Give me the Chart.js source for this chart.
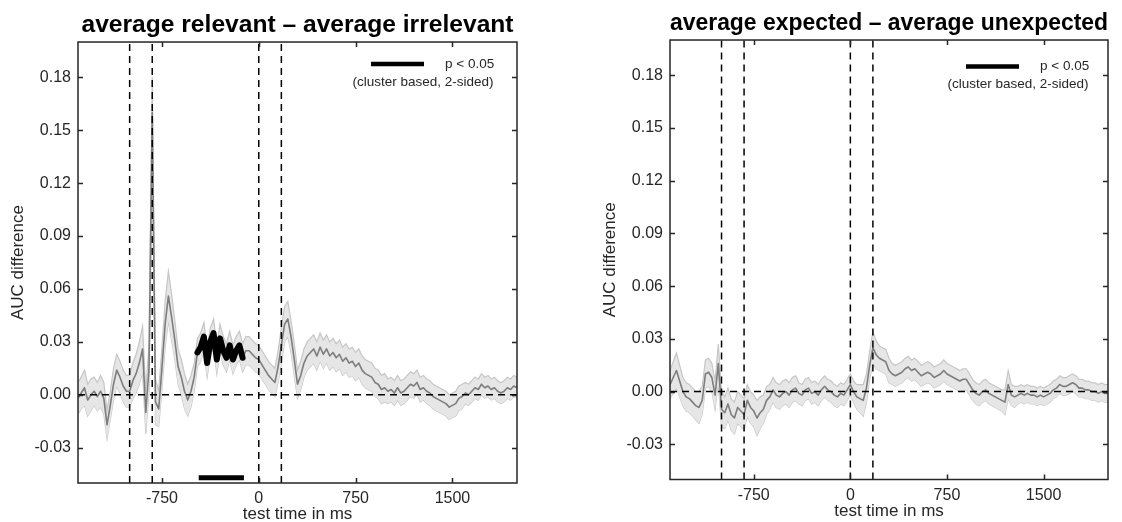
<!DOCTYPE html>
<html>
<head>
<meta charset="utf-8">
<script src="https://cdn.jsdelivr.net/npm/chart.js@4.4.1/dist/chart.umd.min.js"></script>
<style>
  html, body { margin: 0; padding: 0; background: #fff; overflow: hidden; }
  .panel { position: absolute; top: 0; }
</style>
</head>
<body>
<div class="panel" style="left:0px"><canvas id="relevant" width="561" height="530"></canvas></div>
<div class="panel" style="left:592px"><canvas id="expected" width="530" height="530"></canvas></div>
<script>
// time axis: one sample every 25 ms from -1400 to 2000
const tStart = -1400;
const tStep = 25;
const xMin = -1400, xMax = 2000;
const yMin = -0.05, yMax = 0.2;
const xTickValues = [-750, 0, 750, 1500];
const yTickValues = [-0.03, 0, 0.03, 0.06, 0.09, 0.12, 0.15, 0.18];
const eventTimes = [-1000, -825, 0, 175];

// average relevant - average irrelevant
const relevantMean = [
  -0.002, 0.001, 0.004, -0.003, 0.000, 0.002, -0.001, 0.002,
  -0.002, -0.017, -0.006, 0.006, 0.014, 0.010, 0.005, 0.002,
  0.002, 0.008, 0.012, 0.018, 0.026, -0.010, 0.015, 0.160,
  -0.004, -0.008, 0.015, 0.040, 0.056, 0.044, 0.031, 0.016,
  0.010, 0.002, -0.003, 0.002, 0.010, 0.024, 0.027, 0.033,
  0.018, 0.030, 0.035, 0.020, 0.032, 0.025, 0.021, 0.028,
  0.020, 0.025, 0.028, 0.021, 0.025, 0.025, 0.023, 0.021,
  0.020, 0.017, 0.014, 0.011, 0.009, 0.007, 0.016, 0.028,
  0.040, 0.043, 0.033, 0.020, 0.006, 0.011, 0.018, 0.022,
  0.024, 0.026, 0.022, 0.027, 0.023, 0.026, 0.022, 0.024,
  0.021, 0.023, 0.019, 0.021, 0.018, 0.019, 0.016, 0.018,
  0.014, 0.012, 0.011, 0.010, 0.007, 0.006, 0.003, 0.004,
  0.002, 0.003, 0.001, 0.004, 0.001, 0.002, 0.004, 0.006,
  0.005, 0.007, 0.003, 0.004, 0.002, 0.001, -0.001, -0.002,
  -0.003, -0.004, -0.005, -0.007, -0.006, -0.005, -0.002, -0.001,
  0.001, 0.000, 0.002, 0.004, 0.003, 0.006, 0.004, 0.005,
  0.003, 0.004, 0.002, 0.001, 0.002, 0.004, 0.003, 0.005,
  0.004
];
const relevantCI = [
  0.009, 0.009, 0.010, 0.009, 0.009, 0.008, 0.008, 0.009,
  0.009, 0.008, 0.008, 0.009, 0.009, 0.009, 0.009, 0.009,
  0.009, 0.010, 0.011, 0.012, 0.013, 0.012, 0.014, 0.020,
  0.013, 0.010, 0.012, 0.013, 0.014, 0.013, 0.011, 0.010,
  0.010, 0.010, 0.009, 0.009, 0.008, 0.008, 0.008, 0.008,
  0.008, 0.008, 0.008, 0.008, 0.008, 0.008, 0.008, 0.008,
  0.008, 0.008, 0.008, 0.008, 0.008, 0.008, 0.008, 0.008,
  0.008, 0.008, 0.008, 0.008, 0.008, 0.008, 0.009, 0.010,
  0.010, 0.010, 0.009, 0.009, 0.008, 0.008, 0.008, 0.008,
  0.008, 0.008, 0.008, 0.008, 0.008, 0.008, 0.008, 0.008,
  0.008, 0.008, 0.008, 0.008, 0.008, 0.008, 0.008, 0.008,
  0.008, 0.008, 0.008, 0.008, 0.008, 0.008, 0.008, 0.008,
  0.007, 0.007, 0.007, 0.007, 0.007, 0.007, 0.007, 0.007,
  0.007, 0.007, 0.007, 0.007, 0.007, 0.007, 0.007, 0.007,
  0.007, 0.007, 0.007, 0.007, 0.007, 0.007, 0.007, 0.007,
  0.006, 0.006, 0.006, 0.006, 0.006, 0.006, 0.006, 0.006,
  0.006, 0.006, 0.006, 0.006, 0.006, 0.006, 0.006, 0.006,
  0.006
];
// significant cluster (p < 0.05) for the relevant contrast
const sigWindow = [-475, -125];
const sigBarLevel = -0.047;

// average expected - average unexpected
const expectedMean = [
  0.004, 0.008, 0.012, 0.006, 0.000, -0.003, -0.004, -0.006,
  -0.008, -0.009, -0.005, 0.010, 0.011, 0.008, -0.002, 0.016,
  -0.010, -0.012, -0.007, -0.013, -0.015, -0.009, -0.011, -0.013,
  -0.005, -0.009, -0.011, -0.015, -0.012, -0.010, -0.005, -0.003,
  0.001, -0.002, -0.003, -0.001, 0.000, -0.002, 0.001, 0.002,
  -0.001, -0.002, 0.001, 0.002, -0.001, 0.000, -0.002, 0.001,
  0.003, 0.001, 0.000, -0.002, -0.003, -0.001, -0.002, 0.001,
  0.004, 0.000, -0.003, -0.004, -0.005, 0.002, 0.015, 0.025,
  0.021, 0.019, 0.018, 0.017, 0.012, 0.010, 0.009, 0.010,
  0.011, 0.013, 0.014, 0.012, 0.013, 0.011, 0.009, 0.010,
  0.011, 0.010, 0.008, 0.009, 0.010, 0.012, 0.010, 0.009,
  0.008, 0.007, 0.006, 0.007, 0.007, 0.004, 0.001, -0.001,
  -0.002, 0.000, 0.001, -0.001, -0.002, -0.003, -0.004, -0.005,
  -0.006, 0.004, -0.002, -0.003, -0.002, -0.001, -0.002, -0.001,
  -0.002, -0.002, -0.003, -0.002, -0.003, -0.002, -0.001, 0.001,
  0.002, 0.004, 0.003, 0.003, 0.004, 0.005, 0.004, 0.002,
  0.002, 0.001, 0.001, 0.000, 0.000, -0.001, 0.000, -0.001,
  -0.001
];
const expectedCI = [
  0.008, 0.009, 0.010, 0.009, 0.008, 0.008, 0.008, 0.008,
  0.008, 0.009, 0.008, 0.008, 0.008, 0.008, 0.008, 0.011,
  0.010, 0.009, 0.009, 0.009, 0.009, 0.009, 0.009, 0.009,
  0.009, 0.009, 0.009, 0.010, 0.009, 0.008, 0.008, 0.007,
  0.007, 0.007, 0.007, 0.007, 0.007, 0.007, 0.007, 0.007,
  0.006, 0.006, 0.006, 0.006, 0.006, 0.006, 0.006, 0.006,
  0.006, 0.006, 0.006, 0.006, 0.006, 0.006, 0.006, 0.006,
  0.006, 0.006, 0.007, 0.008, 0.009, 0.008, 0.008, 0.009,
  0.008, 0.007, 0.007, 0.007, 0.007, 0.006, 0.006, 0.006,
  0.006, 0.006, 0.006, 0.006, 0.006, 0.006, 0.006, 0.006,
  0.006, 0.006, 0.006, 0.006, 0.006, 0.006, 0.006, 0.006,
  0.006, 0.006, 0.006, 0.006, 0.006, 0.006, 0.006, 0.006,
  0.006, 0.006, 0.006, 0.006, 0.006, 0.006, 0.006, 0.006,
  0.007, 0.008, 0.006, 0.006, 0.005, 0.005, 0.005, 0.005,
  0.005, 0.005, 0.005, 0.005, 0.005, 0.005, 0.005, 0.005,
  0.005, 0.005, 0.005, 0.005, 0.005, 0.005, 0.005, 0.005,
  0.005, 0.005, 0.005, 0.005, 0.005, 0.005, 0.005, 0.005,
  0.005
];

Chart.defaults.font.family = '"Liberation Sans", Arial, Helvetica, sans-serif';
Chart.defaults.color = '#262626';

const meanColor = '#7d7d7d';
const bandEdge = '#c6c6c6';
const bandFill = '#e6e6e6';

function points(values) {
  return values.map((v, i) => ({ x: tStart + i * tStep, y: v }));
}

function bandPoints(values, ci, sign) {
  return values.map((v, i) => ({ x: tStart + i * tStep, y: v + sign * ci[i] }));
}

function dashedLine(data) {
  return { data: data, borderColor: '#000', borderWidth: 1.5, borderDash: [7, 5], pointRadius: 0, order: 1 };
}

function buildDatasets(mean, ci) {
  const sets = [
    { data: bandPoints(mean, ci, 1), borderColor: bandEdge, borderWidth: 1.2, backgroundColor: bandFill, fill: '+1', pointRadius: 0, order: 5 },
    { data: bandPoints(mean, ci, -1), borderColor: bandEdge, borderWidth: 1.2, pointRadius: 0, order: 5 },
    { data: points(mean), borderColor: meanColor, borderWidth: 1.6, borderJoinStyle: 'round', pointRadius: 0, order: 3 },
    dashedLine([{ x: xMin, y: 0 }, { x: xMax, y: 0 }])
  ];
  eventTimes.forEach(t => sets.push(dashedLine([{ x: t, y: yMin }, { x: t, y: yMax }])));
  return sets;
}

// MATLAB-like box with inward ticks, plus the p < 0.05 key
const matlabAxes = {
  id: 'matlabAxes',
  afterDraw(chart, args, opts) {
    const { ctx, chartArea: a } = chart;
    const x = chart.scales.x, y = chart.scales.y;
    ctx.save();
    ctx.strokeStyle = '#262626';
    ctx.lineWidth = 1.5;
    ctx.strokeRect(a.left, a.top, a.right - a.left, a.bottom - a.top);
    ctx.beginPath();
    xTickValues.forEach(v => {
      const px = Math.round(x.getPixelForValue(v)) + 0.5;
      ctx.moveTo(px, a.bottom); ctx.lineTo(px, a.bottom - 5);
      ctx.moveTo(px, a.top); ctx.lineTo(px, a.top + 5);
    });
    yTickValues.forEach(v => {
      const py = Math.round(y.getPixelForValue(v)) + 0.5;
      ctx.moveTo(a.left, py); ctx.lineTo(a.left + 5, py);
      ctx.moveTo(a.right, py); ctx.lineTo(a.right - 5, py);
    });
    ctx.stroke();

    // key
    ctx.strokeStyle = '#000';
    ctx.lineWidth = 4.5;
    ctx.beginPath();
    ctx.moveTo(opts.keyX, opts.keyY);
    ctx.lineTo(opts.keyX + 53, opts.keyY);
    ctx.stroke();
    ctx.fillStyle = '#262626';
    ctx.font = '13.5px "Liberation Sans", Arial, sans-serif';
    ctx.textBaseline = 'middle';
    ctx.textAlign = 'left';
    ctx.fillText('p < 0.05', opts.keyX + 74, opts.keyY);
    ctx.textAlign = 'center';
    ctx.fillText('(cluster based, 2-sided)', opts.keyX + 52, opts.keyY + 18);
    ctx.restore();
  }
};

function buildOptions(cfg) {
  return {
    responsive: false,
    animation: false,
    devicePixelRatio: 1,
    layout: { padding: { left: 0, right: cfg.padRight, top: 0, bottom: 0 } },
    plugins: {
      legend: { display: false },
      tooltip: { enabled: false },
      title: {
        display: true,
        text: cfg.title,
        color: '#000',
        fullSize: false,
        font: { size: 24.6, weight: 'bold', lineHeight: 1.2 },
        padding: { top: cfg.titleTop, bottom: cfg.titleBottom }
      },
      matlabAxes: { keyX: cfg.keyX, keyY: cfg.keyY }
    },
    elements: { line: { tension: 0 } },
    scales: {
      x: {
        type: 'linear',
        min: xMin,
        max: xMax,
        afterBuildTicks: s => { s.ticks = xTickValues.map(v => ({ value: v })); },
        afterFit: s => { s.height = cfg.xAxisHeight; },
        grid: { display: false, drawTicks: false },
        border: { display: false },
        ticks: { padding: 6, font: { size: 16 }, maxRotation: 0, autoSkip: false, callback: v => String(v) },
        title: { display: true, text: 'test time in ms', font: { size: 17 }, padding: { top: 0, bottom: cfg.xTitleBottom } }
      },
      y: {
        type: 'linear',
        min: yMin,
        max: yMax,
        afterBuildTicks: s => { s.ticks = yTickValues.map(v => ({ value: v })); },
        afterFit: s => { s.width = 78; },
        grid: { display: false, drawTicks: false },
        border: { display: false },
        ticks: { padding: 7, font: { size: 16 }, autoSkip: false, callback: v => v.toFixed(2) },
        title: { display: true, text: 'AUC difference', font: { size: 17 }, padding: { top: 8, bottom: 0 } }
      }
    }
  };
}

const relevantSets = buildDatasets(relevantMean, relevantCI);
relevantSets.push({
  data: points(relevantMean).filter(p => p.x >= sigWindow[0] && p.x <= sigWindow[1]),
  borderColor: '#000', borderWidth: 6, borderJoinStyle: 'round', borderCapStyle: 'round', pointRadius: 0, order: 2
});
relevantSets.push({
  data: [{ x: sigWindow[0] + 10, y: sigBarLevel }, { x: sigWindow[1] + 10, y: sigBarLevel }],
  borderColor: '#000', borderWidth: 5, pointRadius: 0, order: 1
});

const relevantChart = new Chart(document.getElementById('relevant'), {
  type: 'line',
  data: { datasets: relevantSets },
  options: buildOptions({
    title: 'average relevant \u2013 average irrelevant',
    padRight: 44, titleTop: 10.5, titleBottom: 2,
    xAxisHeight: 47, xTitleBottom: 5.4,
    keyX: 371, keyY: 64
  }),
  plugins: [matlabAxes]
});

const expectedChart = new Chart(document.getElementById('expected'), {
  type: 'line',
  data: { datasets: buildDatasets(expectedMean, expectedCI) },
  options: buildOptions({
    title: 'average expected \u2013 average unexpected',
    padRight: 14, titleTop: 8, titleBottom: 2.5,
    xAxisHeight: 50.5, xTitleBottom: 8.4,
    keyX: 374, keyY: 66.5
  }),
  plugins: [matlabAxes]
});
</script>
</body>
</html>
